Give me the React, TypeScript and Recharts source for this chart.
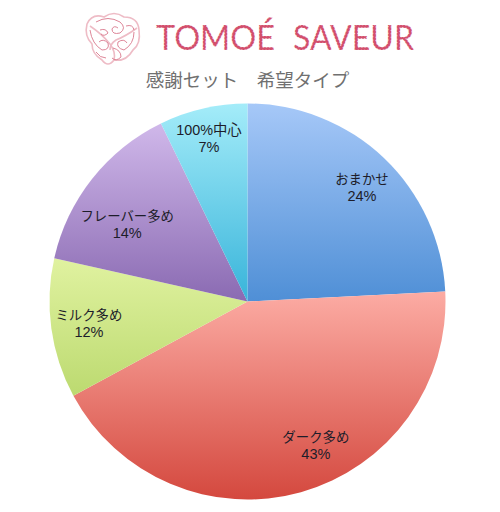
import React from "react";
import { PieChart, Pie, Cell } from "recharts";

const names = ["おまかせ", "ダーク多め", "ミルク多め", "フレーバー多め", "100%中心"];
const percentLabels = ["24%", "43%", "12%", "14%", "7%"];
// slice sizes as drawn: the picture's wedges differ a little from its rounded labels
const sliceValues = [24.2, 42.9, 11.4, 14.3, 7.2];
const topColors = ["#a6c8f8", "#fcaca4", "#e0f2a0", "#d0b8ea", "#a4ecf9"];
const bottomColors = ["#4f8fd6", "#d4483e", "#bcda70", "#8a6ab2", "#38b4da"];

const data = names.map((name, i) => ({ name, value: sliceValues[i] }));

const FONT = '"Liberation Sans", "Noto Sans CJK JP", sans-serif';
// label placement relative to each slice: distance from the centre, and turn off its mid angle
const labelRadius = [162, 159, 160, 143, 168];
const labelTurn = [1.4, -9.8, 0.3, -5.6, -0.3];
const nameSize = [13.4, 13.4, 13.4, 13.4, 14.4];

function SliceLabel(props: any) {
    const { cx, cy, midAngle, index } = props;
    const r = labelRadius[index];
    const clockwise = ((90 - midAngle + labelTurn[index]) * Math.PI) / 180;
    const x = cx + r * Math.sin(clockwise);
    const y = cy - r * Math.cos(clockwise);
    return (
        <text x={x} textAnchor="middle" fontFamily={FONT} fill="#1d1d2a">
            <tspan x={x} y={y - 3} fontSize={nameSize[index]}>{names[index]}</tspan>
            <tspan x={x} y={y + 14} fontSize={14.5}>{percentLabels[index]}</tspan>
        </text>
    );
}

function LogoWord({ x, width, word }: { x: number; width: number; word: string }) {
    return (
        <g fontFamily="Lato, sans-serif" fontSize={34.5}>
            <text x={x} y={50} fill="#d24f6d" textLength={width} lengthAdjust="spacingAndGlyphs">{word}</text>
            <text x={x} y={50} fill="none" stroke="#fff" strokeWidth={0.7} strokeDasharray="1 2.4" textLength={width} lengthAdjust="spacingAndGlyphs">{word}</text>
        </g>
    );
}

function Logo() {
    return (
        <svg width={500} height={100} style={{ position: "absolute", left: 0, top: 0 }}>
            <g fill="none" stroke="#eebcc6" strokeWidth={1.6}>
                <path d="M87 24 Q92 13 104 17 Q114 10 124 17 Q138 17 139 30 Q141 44 133 50 Q126 62 114 60 Q108 68 102 60 Q92 54 92 44 Q84 36 87 24 Z" />
                <path d="M90 26 Q102 34 110 44 Q116 52 114 60" />
                <path d="M137 28 Q126 36 116 40 Q110 44 110 50" />
            </g>
            <g fill="none" stroke="#d9788c" strokeWidth={0.9}>
                <path d="M96 22 Q108 15 120 22 Q127 28 120 33 Q112 35 112 29 Q114 25 118 28" />
                <path d="M90 30 Q92 44 102 50 Q110 50 108 43 Q103 38 99 42" />
                <path d="M134 32 Q134 44 124 50 Q116 48 118 42 Q124 38 127 43" />
                <path d="M113 48 Q121 50 121 57 Q116 62 112 58" />
                <path d="M100 30 Q106 28 108 33 Q104 37 101 34" />
                <path d="M126 26 Q133 24 134 30" />
                <path d="M96 52 Q100 58 106 58" />
            </g>
            <LogoWord x={156} width={119} word="TOMOÉ" />
            <LogoWord x={293} width={121} word="SAVEUR" />
        </svg>
    );
}

export default function App() {
    return (
        <div style={{ position: "fixed", left: 0, top: 0, width: 500, height: 512, background: "#fff" }}>
            <Logo />
            <div style={{ position: "absolute", left: 0, top: 68, width: 495, textAlign: "center", fontFamily: FONT, fontSize: 18.5, lineHeight: "26px", color: "#707070" }}>
                感謝セット　希望タイプ
            </div>
            <div style={{ position: "absolute", left: 0, top: 0 }}>
                <PieChart width={500} height={512} margin={{ top: 0, right: 0, bottom: 0, left: 0 }}>
                    <defs>
                        {topColors.map((c, i) => (
                            <linearGradient key={i} id={`slice${i}`} x1="0" y1="0" x2="0" y2="1">
                                <stop offset="0%" stopColor={c} />
                                <stop offset="100%" stopColor={bottomColors[i]} />
                            </linearGradient>
                        ))}
                    </defs>
                    <Pie
                        data={data}
                        dataKey="value"
                        cx={247.5}
                        cy={301.5}
                        outerRadius={198}
                        startAngle={90}
                        endAngle={-270}
                        stroke="none"
                        label={SliceLabel}
                        labelLine={false}
                        isAnimationActive={false}
                    >
                        {data.map((d, i) => (
                            <Cell key={d.name} fill={`url(#slice${i})`} />
                        ))}
                    </Pie>
                </PieChart>
            </div>
        </div>
    );
}
